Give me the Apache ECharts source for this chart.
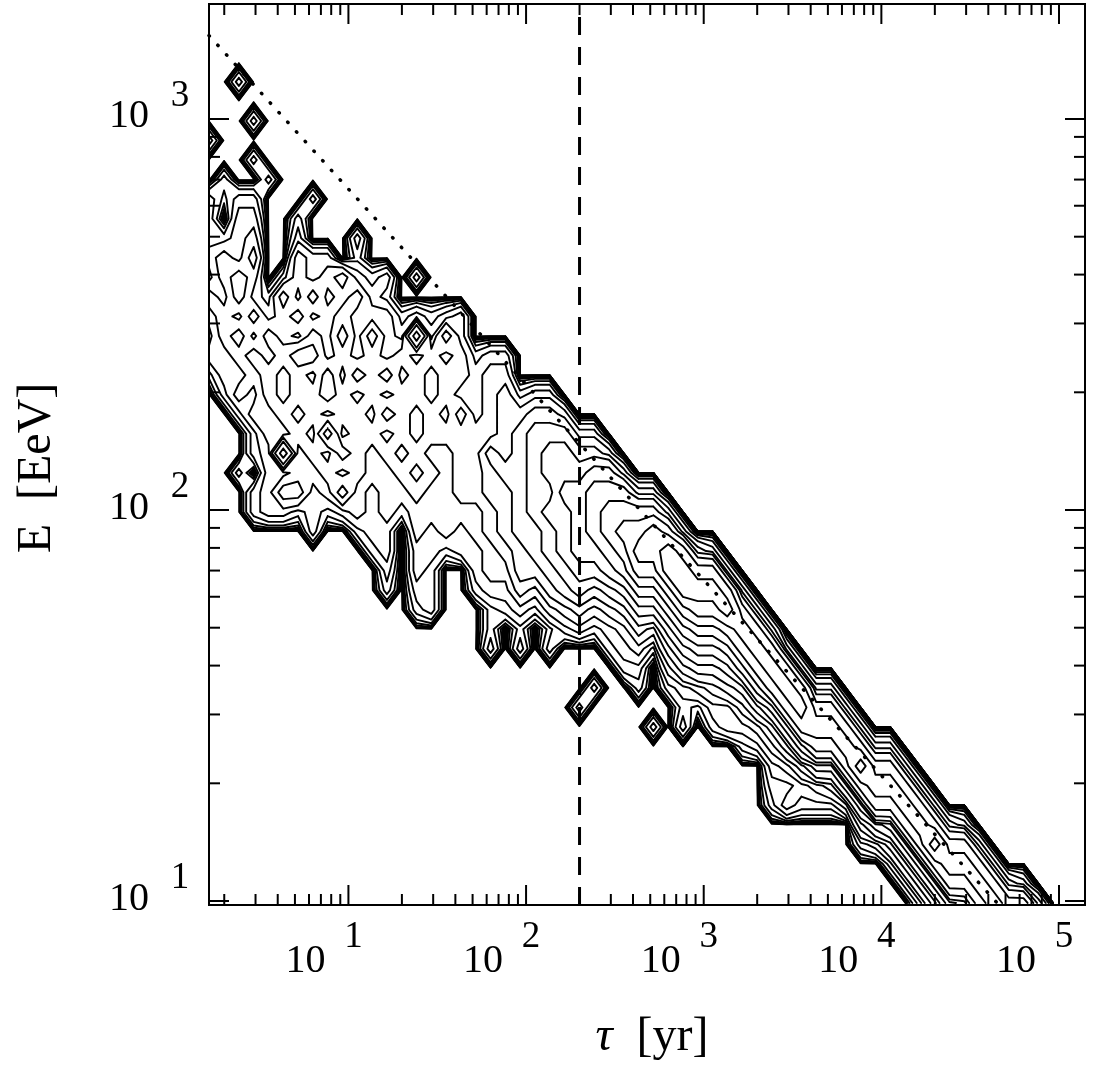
<!DOCTYPE html>
<html>
<head>
<meta charset="utf-8">
<title>E vs tau contours</title>
<script src="https://cdn.jsdelivr.net/npm/echarts@6/dist/echarts.min.js"></script>
<style>
html,body{margin:0;padding:0;background:#fff;}
#chart{width:1104px;height:1071px;}
</style>
</head>
<body>
<div id="chart"></div>
<script>
// ---------------- data ----------------
// histogram cell centres: log10(tau/yr) = tauLog0 + j*tauLogStep, log10(E/EeV) = eLog0 + m*eLogStep
const tauLog0 = 0.05, tauLogStep = 1 / 12, tauColumns = 64;
const eLog0 = 0.995, eLogStep = 0.05, eRows = 47;

// contour-level index of populated cells (base 36 digits, 0 = empty)
// one entry per row, from m = 46 (top) down to m = 0 (bottom); each run = [first column j, digits]
const cellRuns = [
  /*46*/ [],
  /*45*/ [],
  /*44*/ [],
  /*43*/ [],
  /*42*/ [[4, '5']],
  /*41*/ [],
  /*40*/ [[5, '5']],
  /*39*/ [[2, '5']],
  /*38*/ [[5, '5']],
  /*37*/ [[3, '5'], [6, '5']],
  /*36*/ [[2, '6466'], [9, '5']],
  /*35*/ [[2, '6077'], [8, '5']],
  /*34*/ [[2, '6678'], [8, '6'], [12, '6']],
  /*33*/ [[2, '7879'], [8, '877'], [12, '5']],
  /*32*/ [[2, '6898'], [7, '68789767'], [16, '5']],
  /*31*/ [[2, '8797697978976']],
  /*30*/ [[2, '787978978988867678']],
  /*29*/ [[2, '689798798a8a87c7a8']],
  /*28*/ [[2, '778989aa8989898989' + '788']],
  /*27*/ [[2, '57789898a8a9a89899' + '899']],
  /*26*/ [[3, '6879899a989899898' + '89a899']],
  /*25*/ [[4, '6889898998a9898a' + '89aabba']],
  /*24*/ [[5, '68898b899898999' + '99abcccaa']],
  /*23*/ [[5, '67c898a98989889' + '9babcddccb']],
  /*22*/ [[4, '5'], [6, '77889898898989' + '9abbcdddeec']],
  /*21*/ [[5, '679978a87889889' + '9aabcceefffdd']],
  /*20*/ [[5, '677676787878888' + '89abcddefgggg' + 'e']],
  /*19*/ [[9, '7'], [12, '677'], [16, '8787' + '89abbcdefghhi' + 'he']],
  /*18*/ [[13, '67'], [16, '7767' + '789abcdeefgii' + 'jife']],
  /*17*/ [[14, '6'], [16, '76'], [20, '788aabcddefhh' + 'jjiie']],
  /*16*/ [[14, '5'], [16, '66'], [20, '67798abcbcdff' + 'hjjjie']],
  /*15*/ [[16, '56'], [21, '567689a9abdd' + 'fhiijhe']],
  /*14*/ [[21, '5'], [23, '5'], [25, '578789ba' + 'dfgghihe']],
  /*13*/ [[21, '6'], [23, '6'], [25, '6'], [29, '7897' + 'bdeefhihd']],
  /*12*/ [[30, '77'], [33, '9bccdfhihd']],
  /*11*/ [[28, '5'], [31, '6'], [33, '789abcfhihdd']],
  /*10*/ [[27, '5'], [34, '7688acehiggd']],
  /* 9*/ [[32, '5'], [34, '8'], [36, '7889behhhgd']],
  /* 8*/ [[38, '679begghgdd']],
  /* 7*/ [[40, '78accgiggd']],
  /* 6*/ [[40, '66789cghhgd']],
  /* 5*/ [[40, '576668cgghgd']],
  /* 4*/ [[46, '9bcghgdc']],
  /* 3*/ [[46, '679cgiggd']],
  /* 2*/ [[48, '69cghhgd']],
  /* 1*/ [[49, '69cgghgdc']],
  /* 0*/ [[50, '69cdghggd']]
];

// contour thresholds (in level-index units); level index n stands for a density ratio^n
const contourLevels = [-1.5, -0.5, 0.5, 1.5, 2.5, 3.5, 4.5, 5.5, 6.5, 7.5, 8.5, 9.5,
  10.5, 11.5, 12.5, 13.5, 14.5, 15.5, 16.5, 17.5, 18.5, 19.5];
const levelRatio = 1.6;

// reference lines
const dashedLogTau = 2.301;                 // tau = 200 yr
const dottedLogTau = [0.2152, 4.6624];      // dotted line end points
const dottedLogE = [3.2134, 0.9898];

// axes (log10 units)
const xRange = [0.2152, 5.1463];
const yRange = [0.9898, 3.2941];
const xMajorTicks = [1, 2, 3, 4, 5];
const xTickLabels = ['1', '2', '3', '4', '5'];
const yMajorTicks = [1, 2, 3];
const yTickLabels = ['1', '2', '3'];
const minorMultipliers = [2, 3, 4, 5, 6, 7, 8, 9];

// ---------------- build the field ----------------
const F = [];
for (let m = 0; m < eRows; m++) F.push(new Array(tauColumns).fill(0));
cellRuns.forEach(function (runs, idx) {
  const m = eRows - 1 - idx;
  runs.forEach(function (run) {
    const j0 = run[0], s = run[1];
    for (let k = 0; k < s.length; k++) {
      const n = parseInt(s[k], 36);
      F[m][j0 + k] = n > 0 ? Math.pow(levelRatio, n) : 0;
    }
  });
});

function marching(T) {
  const segs = [];
  for (let r = 0; r < eRows - 1; r++) {
    for (let c = 0; c < tauColumns - 1; c++) {
      const a = F[r][c], b = F[r][c + 1], cc = F[r + 1][c + 1], d = F[r + 1][c];
      const A = a > T, B = b > T, C = cc > T, D = d > T;
      if (A === B && B === C && C === D) continue;
      const e = {};
      let cnt = 0;
      if (A !== B) { e.b = [c + (T - a) / (b - a), r]; cnt++; }
      if (B !== C) { e.r = [c + 1, r + (T - b) / (cc - b)]; cnt++; }
      if (D !== C) { e.t = [c + (T - d) / (cc - d), r + 1]; cnt++; }
      if (A !== D) { e.l = [c, r + (T - a) / (d - a)]; cnt++; }
      if (cnt === 2) {
        const k = Object.keys(e);
        segs.push([e[k[0]], e[k[1]]]);
      } else if (cnt === 4) {
        const center = (a + b + cc + d) / 4 > T;
        if (A === center) { segs.push([e.b, e.r]); segs.push([e.t, e.l]); }
        else { segs.push([e.l, e.b]); segs.push([e.r, e.t]); }
      }
    }
  }
  return segs;
}
const contourSegs = contourLevels.map(function (L) { return marching(Math.pow(levelRatio, L)); });

function nodeToData(p) {
  return [tauLog0 + p[0] * tauLogStep, eLog0 + p[1] * eLogStep];
}

function renderContour(params, api) {
  const segs = contourSegs[api.value(2)];
  if (!segs.length) return null;
  let d = '';
  for (let i = 0; i < segs.length; i++) {
    const p1 = api.coord(nodeToData(segs[i][0]));
    const p2 = api.coord(nodeToData(segs[i][1]));
    d += 'M' + p1[0].toFixed(2) + ' ' + p1[1].toFixed(2) + 'L' + p2[0].toFixed(2) + ' ' + p2[1].toFixed(2);
  }
  return {
    type: 'path',
    shape: { pathData: d },
    style: { fill: 'none', stroke: '#000', lineWidth: 1.9, lineJoin: 'round', lineCap: 'round' }
  };
}

function txt(x, y, s, size) {
  return {
    type: 'text', x: x, y: y,
    style: {
      text: s, fill: '#000', font: size + 'px "Liberation Serif", "DejaVu Serif", serif',
      align: 'center', verticalAlign: 'middle', textAlign: 'center', textVerticalAlign: 'middle'
    }
  };
}

function renderAxes(params, api) {
  const cs = params.coordSys;
  const L0 = cs.x, R0 = cs.x + cs.width, T0 = cs.y, B0 = cs.y + cs.height;
  const ch = [];
  const major = 20, minor = 11;
  function tick(x1, y1, x2, y2) {
    ch.push({ type: 'line', shape: { x1: x1, y1: y1, x2: x2, y2: y2 }, style: { stroke: '#000', lineWidth: 2 } });
  }
  function xt(v, len) {
    const x = api.coord([v, yRange[0]])[0];
    if (x < L0 + 1 || x > R0 - 1) return;
    tick(x, B0, x, B0 - len); tick(x, T0, x, T0 + len);
  }
  function yt(v, len) {
    const y = api.coord([xRange[0], v])[1];
    if (y < T0 + 1 || y > B0 - 1) return;
    tick(L0, y, L0 + len, y); tick(R0, y, R0 - len, y);
  }
  for (let dcd = 0; dcd <= 5; dcd++) {
    minorMultipliers.forEach(function (k) { xt(dcd + Math.log10(k), minor); });
  }
  xMajorTicks.forEach(function (v) { xt(v, major); });
  for (let dcd = 0; dcd <= 3; dcd++) {
    minorMultipliers.forEach(function (k) { yt(dcd + Math.log10(k), minor); });
  }
  yMajorTicks.forEach(function (v) { yt(v, major); });

  xMajorTicks.forEach(function (v, i) {
    const x = api.coord([v, yRange[0]])[0];
    ch.push(txt(x - 43, 961, '10', 40));
    ch.push(txt(x + 5, 937, xTickLabels[i], 37));
  });
  yMajorTicks.forEach(function (v, i) {
    const y = api.coord([xRange[0], v])[1];
    ch.push(txt(129, y - 2, '10', 40));
    ch.push(txt(180, y - 23, yTickLabels[i], 37));
  });
  return { type: 'group', children: ch };
}

const chart = echarts.init(document.getElementById('chart'), null, { renderer: 'canvas' });
chart.setOption({
  animation: false,
  backgroundColor: '#fff',
  grid: { left: 209, right: 19, top: 4, bottom: 166, show: true, borderColor: '#000', borderWidth: 2, backgroundColor: 'rgba(0,0,0,0)' },
  xAxis: { type: 'value', min: xRange[0], max: xRange[1], show: false },
  yAxis: { type: 'value', min: yRange[0], max: yRange[1], show: false },
  graphic: [
    { type: 'text', x: 652, y: 1037, style: { text: '{i|τ}  [yr]', fontSize: 48, fontFamily: '"Liberation Serif", serif', fill: '#000', align: 'center', verticalAlign: 'middle', textAlign: 'center', textVerticalAlign: 'middle',
      rich: { i: { fontStyle: 'italic', fontSize: 48, fontFamily: '"Liberation Serif", serif', fill: '#000' } } } },
    { type: 'text', x: 37, y: 468, rotation: Math.PI / 2, style: { text: 'E  [EeV]', font: '48px "Liberation Serif", serif', fill: '#000', align: 'center', verticalAlign: 'middle', textAlign: 'center', textVerticalAlign: 'middle' } }
  ],
  series: [
    {
      type: 'custom', coordinateSystem: 'cartesian2d', clip: true, z: 2,
      data: contourLevels.map(function (L, i) { return [xRange[0], yRange[0], i]; }),
      renderItem: renderContour
    },
    {
      type: 'line', symbol: 'none', z: 3, silent: true,
      data: [[dashedLogTau, yRange[0]], [dashedLogTau, yRange[1]]],
      lineStyle: { color: '#000', width: 3, type: [18, 12] }
    },
    {
      type: 'line', symbol: 'none', z: 3, silent: true,
      data: [[dottedLogTau[0], dottedLogE[0]], [dottedLogTau[1], dottedLogE[1]]],
      lineStyle: { color: '#000', width: 3.5, type: [0.5, 12.5], cap: 'round' }
    },
    {
      type: 'custom', coordinateSystem: 'cartesian2d', clip: false, z: 4,
      data: [[xRange[0], yRange[0], 0]],
      renderItem: renderAxes
    }
  ]
});
</script>
</body>
</html>
